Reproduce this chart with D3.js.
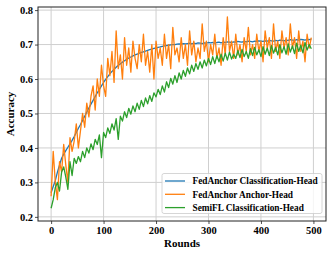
<!DOCTYPE html>
<html>
<head>
<meta charset="utf-8">
<script src="https://cdn.jsdelivr.net/npm/d3@7"></script>
<style>
  html, body { margin: 0; padding: 0; background: #fff; }
  svg { display: block; font-family: 'Liberation Serif', 'Times New Roman', serif; font-weight: bold; }
</style>
</head>
<body>
<div id="chart"></div>
<script>
// rounds sampled every 4
const rounds = d3.range(0, 500, 4)

const fedAnchorCls = [
  0.270, 0.288, 0.305, 0.330, 0.350, 0.370, 0.382, 0.392, 0.402, 0.412,
  0.422, 0.433, 0.445, 0.457, 0.468, 0.480, 0.492, 0.504, 0.516, 0.527,
  0.538, 0.549, 0.560, 0.570, 0.580, 0.590, 0.599, 0.607, 0.615, 0.622,
  0.628, 0.634, 0.640, 0.644, 0.649, 0.653, 0.657, 0.661, 0.664, 0.667,
  0.670, 0.672, 0.675, 0.677, 0.679, 0.681, 0.683, 0.685, 0.687, 0.689,
  0.690, 0.692, 0.693, 0.695, 0.696, 0.697, 0.698, 0.699, 0.700, 0.700,
  0.701, 0.702, 0.701, 0.703, 0.702, 0.703, 0.704, 0.702, 0.704, 0.703,
  0.705, 0.704, 0.703, 0.705, 0.704, 0.706, 0.705, 0.706, 0.704, 0.706,
  0.707, 0.705, 0.707, 0.706, 0.708, 0.707, 0.706, 0.708, 0.707, 0.709,
  0.708, 0.707, 0.709, 0.708, 0.710, 0.709, 0.708, 0.710, 0.709, 0.711,
  0.710, 0.709, 0.711, 0.710, 0.712, 0.711, 0.710, 0.712, 0.711, 0.713,
  0.712, 0.711, 0.713, 0.712, 0.714, 0.713, 0.712, 0.714, 0.713, 0.715,
  0.714, 0.713, 0.715, 0.714, 0.716
]

const fedAnchorAnchor = [
  0.26, 0.39, 0.30, 0.25, 0.36, 0.33, 0.41, 0.35, 0.30, 0.43,
  0.39, 0.42, 0.47, 0.40, 0.45, 0.50, 0.46, 0.53, 0.49, 0.55,
  0.58, 0.51, 0.60, 0.55, 0.64, 0.58, 0.55, 0.66, 0.61, 0.68,
  0.59, 0.74, 0.63, 0.67, 0.60, 0.72, 0.64, 0.69, 0.62, 0.71,
  0.66, 0.63, 0.70, 0.65, 0.73, 0.64, 0.68, 0.62, 0.70, 0.60,
  0.71, 0.66, 0.69, 0.64, 0.73, 0.66, 0.70, 0.63, 0.75, 0.67,
  0.69, 0.65, 0.72, 0.66, 0.70, 0.64, 0.74, 0.67, 0.71, 0.65,
  0.69, 0.66, 0.76, 0.68, 0.71, 0.65, 0.70, 0.67, 0.73, 0.66,
  0.69, 0.64, 0.72, 0.67, 0.78, 0.68, 0.71, 0.66, 0.73, 0.67,
  0.70, 0.65, 0.72, 0.68, 0.75, 0.67, 0.70, 0.66, 0.73, 0.68,
  0.71, 0.65, 0.74, 0.69, 0.72, 0.66, 0.76, 0.68, 0.71, 0.66,
  0.74, 0.69, 0.72, 0.67, 0.76, 0.69, 0.72, 0.66, 0.74, 0.68,
  0.71, 0.65, 0.73, 0.69, 0.72
]

const semiFLCls = [
  0.225, 0.250, 0.285, 0.300, 0.275, 0.330, 0.345, 0.315, 0.280, 0.360,
  0.320, 0.370, 0.355, 0.375, 0.360, 0.390, 0.372, 0.400, 0.385, 0.412,
  0.395, 0.425, 0.410, 0.438, 0.372, 0.445, 0.430, 0.458, 0.442, 0.470,
  0.452, 0.485, 0.425, 0.492, 0.478, 0.505, 0.488, 0.515, 0.498, 0.522,
  0.505, 0.530, 0.512, 0.538, 0.520, 0.545, 0.528, 0.552, 0.535, 0.560,
  0.548, 0.570, 0.555, 0.580, 0.562, 0.592, 0.575, 0.602, 0.585, 0.610,
  0.590, 0.618, 0.600, 0.625, 0.608, 0.632, 0.615, 0.640, 0.622, 0.645,
  0.628, 0.650, 0.632, 0.655, 0.638, 0.660, 0.642, 0.665, 0.645, 0.668,
  0.650, 0.672, 0.652, 0.675, 0.655, 0.678, 0.658, 0.672, 0.660, 0.683,
  0.662, 0.686, 0.665, 0.680, 0.660, 0.688, 0.668, 0.692, 0.670, 0.685,
  0.665, 0.694, 0.672, 0.690, 0.668, 0.697, 0.675, 0.692, 0.670, 0.700,
  0.676, 0.694, 0.672, 0.702, 0.678, 0.696, 0.674, 0.704, 0.680, 0.698,
  0.676, 0.706, 0.684, 0.700, 0.688
]

const seriesNames = ['FedAnchor Classification-Head', 'FedAnchor Anchor-Head', 'SemiFL Classification-Head']
const seriesColors = ['#1f77b4', '#ff7f0e', '#2ca02c']
const xTicks = [0, 100, 200, 300, 400, 500]
const yTicks = [0.2, 0.3, 0.4, 0.5, 0.6, 0.7, 0.8]

const W = 332, H = 256
const plot = { left: 38, right: 326, top: 7, bottom: 221 }

const svg = d3.select('#chart').append('svg')
  .attr('width', W).attr('height', H)

const x = d3.scaleLinear().domain([-25, 524]).range([plot.left, plot.right])
const y = d3.scaleLinear().domain([0.188, 0.809]).range([plot.bottom, plot.top])

// grid
const grid = svg.append('g').attr('stroke', '#cfcfcf').attr('stroke-width', 1)
xTicks.forEach(t => grid.append('line')
  .attr('x1', x(t)).attr('x2', x(t)).attr('y1', plot.top).attr('y2', plot.bottom))
yTicks.forEach(t => grid.append('line')
  .attr('x1', plot.left).attr('x2', plot.right).attr('y1', y(t)).attr('y2', y(t)))

// lines
const data = [fedAnchorCls, fedAnchorAnchor, semiFLCls]
const line = d3.line().x((d, i) => x(rounds[i])).y(d => y(d))
svg.append('clipPath').attr('id', 'clip').append('rect')
  .attr('x', plot.left).attr('y', plot.top)
  .attr('width', plot.right - plot.left).attr('height', plot.bottom - plot.top)
const lines = svg.append('g').attr('clip-path', 'url(#clip)')
data.forEach((vals, k) => {
  lines.append('path')
    .datum(vals)
    .attr('d', line)
    .attr('fill', 'none')
    .attr('stroke', seriesColors[k])
    .attr('stroke-width', 1.3)
    .attr('stroke-linejoin', 'round')
})

// axes
const xAxis = svg.append('g')
  .attr('transform', `translate(0,${plot.bottom})`)
  .call(d3.axisBottom(x).tickValues(xTicks).tickSize(3).tickPadding(2.5).tickFormat(d3.format('d')))
const yAxis = svg.append('g')
  .attr('transform', `translate(${plot.left},0)`)
  .call(d3.axisLeft(y).tickValues(yTicks).tickSize(3).tickPadding(2).tickFormat(d3.format('.1f')))
;[xAxis, yAxis].forEach(a => {
  a.select('.domain').remove()
  a.selectAll('line').attr('stroke', '#222').attr('stroke-width', 0.8)
  a.selectAll('text').attr('fill', '#000').attr('font-size', '10.5px')
    .attr('font-family', "'Liberation Serif', serif").attr('font-weight', 'bold')
})

// frame
svg.append('rect')
  .attr('x', plot.left).attr('y', plot.top)
  .attr('width', plot.right - plot.left).attr('height', plot.bottom - plot.top)
  .attr('fill', 'none').attr('stroke', '#222').attr('stroke-width', 1)

// axis labels
svg.append('text')
  .attr('x', (plot.left + plot.right) / 2).attr('y', 247)
  .attr('text-anchor', 'middle').attr('font-size', '11px').text('Rounds')
svg.append('text')
  .attr('transform', `translate(14,${(plot.top + plot.bottom) / 2}) rotate(-90)`)
  .attr('text-anchor', 'middle').attr('font-size', '11px').text('Accuracy')

// legend
const legend = svg.append('g').attr('transform', 'translate(162,173.5)')
legend.append('rect')
  .attr('width', 160).attr('height', 40).attr('rx', 2)
  .attr('fill', '#fff').attr('fill-opacity', 0.8)
  .attr('stroke', '#cccccc').attr('stroke-width', 0.8)
seriesNames.forEach((name, i) => {
  const row = legend.append('g').attr('transform', `translate(0,${7.5 + i * 13.3})`)
  row.append('line').attr('x1', 3).attr('x2', 23).attr('y1', 0).attr('y2', 0)
    .attr('stroke', seriesColors[i]).attr('stroke-width', 1.3)
  row.append('text').attr('x', 30.5).attr('y', 3.2)
    .attr('font-size', '9.3px').text(name)
})
</script>
</body>
</html>
